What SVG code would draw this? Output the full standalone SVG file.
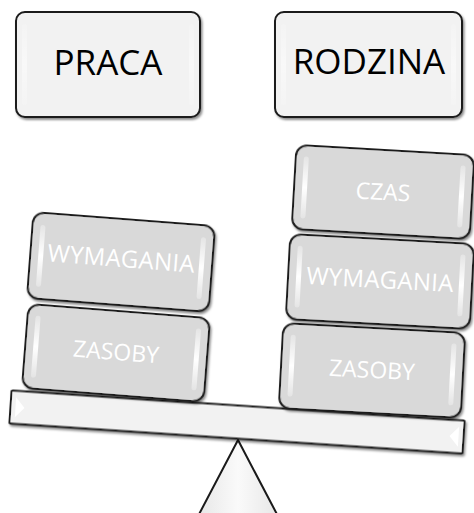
<svg xmlns="http://www.w3.org/2000/svg" width="474" height="513" viewBox="0 0 474 513">
  <defs>
    <filter id="shadow" x="-10%" y="-10%" width="120%" height="130%">
      <feDropShadow dx="1.5" dy="2" stdDeviation="1" flood-color="#000" flood-opacity="0.45"/>
    </filter>
    <linearGradient id="glossV" x1="0" y1="0" x2="0" y2="1">
      <stop offset="0" stop-color="#fff" stop-opacity="0.3"/>
      <stop offset="0.5" stop-color="#fff" stop-opacity="1"/>
      <stop offset="1" stop-color="#fff" stop-opacity="0.3"/>
    </linearGradient>
    <linearGradient id="fulcrumFill" x1="0" y1="0" x2="1" y2="0">
      <stop offset="0" stop-color="#e6e6e6"/>
      <stop offset="0.5" stop-color="#fafafa"/>
      <stop offset="1" stop-color="#e6e6e6"/>
    </linearGradient>
  </defs>
  <style>
    .tile { fill: #f2f2f2; stroke: #1a1a1a; stroke-width: 2; filter: url(#shadow); }
    .block { fill: #d9d9d9; stroke: #1a1a1a; stroke-width: 2; filter: url(#shadow); }
    .gloss { fill: url(#glossV); }
    .softgloss { fill: url(#glossV); opacity: 0.5; }
    .title { font-family: "Open Sans", "Liberation Sans", sans-serif; font-size: 35px; fill: #000; text-anchor: middle; }
    .label { font-family: "Open Sans", "Liberation Sans", sans-serif; font-size: 23px; fill: #fff; text-anchor: middle; }
    .wide { font-size: 24px; letter-spacing: 0.3px; }
    .beam { fill: #f2f2f2; stroke: #1a1a1a; stroke-width: 2; filter: url(#shadow); }
    .fulcrum { fill: url(#fulcrumFill); stroke: #1a1a1a; stroke-width: 2; }
  </style>

  <!-- headings -->
  <g id="praca">
    <rect class="tile" x="16" y="12" width="184" height="105" rx="9"/>
    <rect class="softgloss" x="22" y="24" width="5" height="81" rx="2.5"/>
    <rect class="softgloss" x="189" y="24" width="5" height="81" rx="2.5"/>
    <text class="title" x="108" y="75">PRACA</text>
  </g>
  <g id="rodzina">
    <rect class="tile" x="275" y="12" width="187" height="105" rx="9"/>
    <rect class="softgloss" x="281" y="24" width="5" height="81" rx="2.5"/>
    <rect class="softgloss" x="451" y="24" width="5" height="81" rx="2.5"/>
    <text class="title" x="369" y="74">RODZINA</text>
  </g>

  <!-- scale -->
  <g id="fulcrum">
    <polygon class="fulcrum" points="238,440 196,520 280,520"/>
  </g>
  <g id="beam" transform="translate(237 422) rotate(3.8)">
    <rect class="beam" x="-227" y="-16.5" width="454" height="33" rx="1"/>
    <polygon points="-222,-10 -213,0 -222,10" fill="#fff"/>
    <polygon points="222,-10 213,0 222,10" fill="#fff"/>
  </g>

  <!-- left pan -->
  <g id="left-zasoby" transform="translate(116 353) rotate(4.5)">
    <rect class="block" x="-91" y="-42" width="182" height="84" rx="11"/>
    <rect class="gloss" x="-83" y="-31" width="5" height="62" rx="2.5"/>
    <rect class="gloss" x="78" y="-31" width="5" height="62" rx="2.5"/>
    <text class="label" x="0" y="7">ZASOBY</text>
  </g>
  <g id="left-wymagania" transform="translate(121 262) rotate(4.4)">
    <rect class="block" x="-91" y="-43" width="182" height="86" rx="11"/>
    <rect class="gloss" x="-83" y="-31" width="5" height="62" rx="2.5"/>
    <rect class="gloss" x="78" y="-31" width="5" height="62" rx="2.5"/>
    <text class="label wide" x="0" y="5">WYMAGANIA</text>
  </g>

  <!-- right pan -->
  <g id="right-zasoby" transform="translate(372 370) rotate(3.1)">
    <rect class="block" x="-91" y="-42" width="182" height="85" rx="11"/>
    <rect class="gloss" x="-83" y="-31" width="5" height="62" rx="2.5"/>
    <rect class="gloss" x="78" y="-31" width="5" height="62" rx="2.5"/>
    <text class="label" x="0" y="8">ZASOBY</text>
  </g>
  <g id="right-wymagania" transform="translate(380 281) rotate(3.1)">
    <rect class="block" x="-92" y="-42" width="184" height="85" rx="11"/>
    <rect class="gloss" x="-84" y="-31" width="5" height="62" rx="2.5"/>
    <rect class="gloss" x="79" y="-31" width="5" height="62" rx="2.5"/>
    <text class="label wide" x="0" y="7">WYMAGANIA</text>
  </g>
  <g id="right-czas" transform="translate(383 192) rotate(3.3)">
    <rect class="block" x="-89" y="-42" width="178" height="84" rx="11"/>
    <rect class="gloss" x="-81" y="-31" width="5" height="62" rx="2.5"/>
    <rect class="gloss" x="76" y="-31" width="5" height="62" rx="2.5"/>
    <text class="label" x="0" y="8">CZAS</text>
  </g>

  <!-- no connectors in this drawing -->
  <g id="connectors"/>
</svg>
